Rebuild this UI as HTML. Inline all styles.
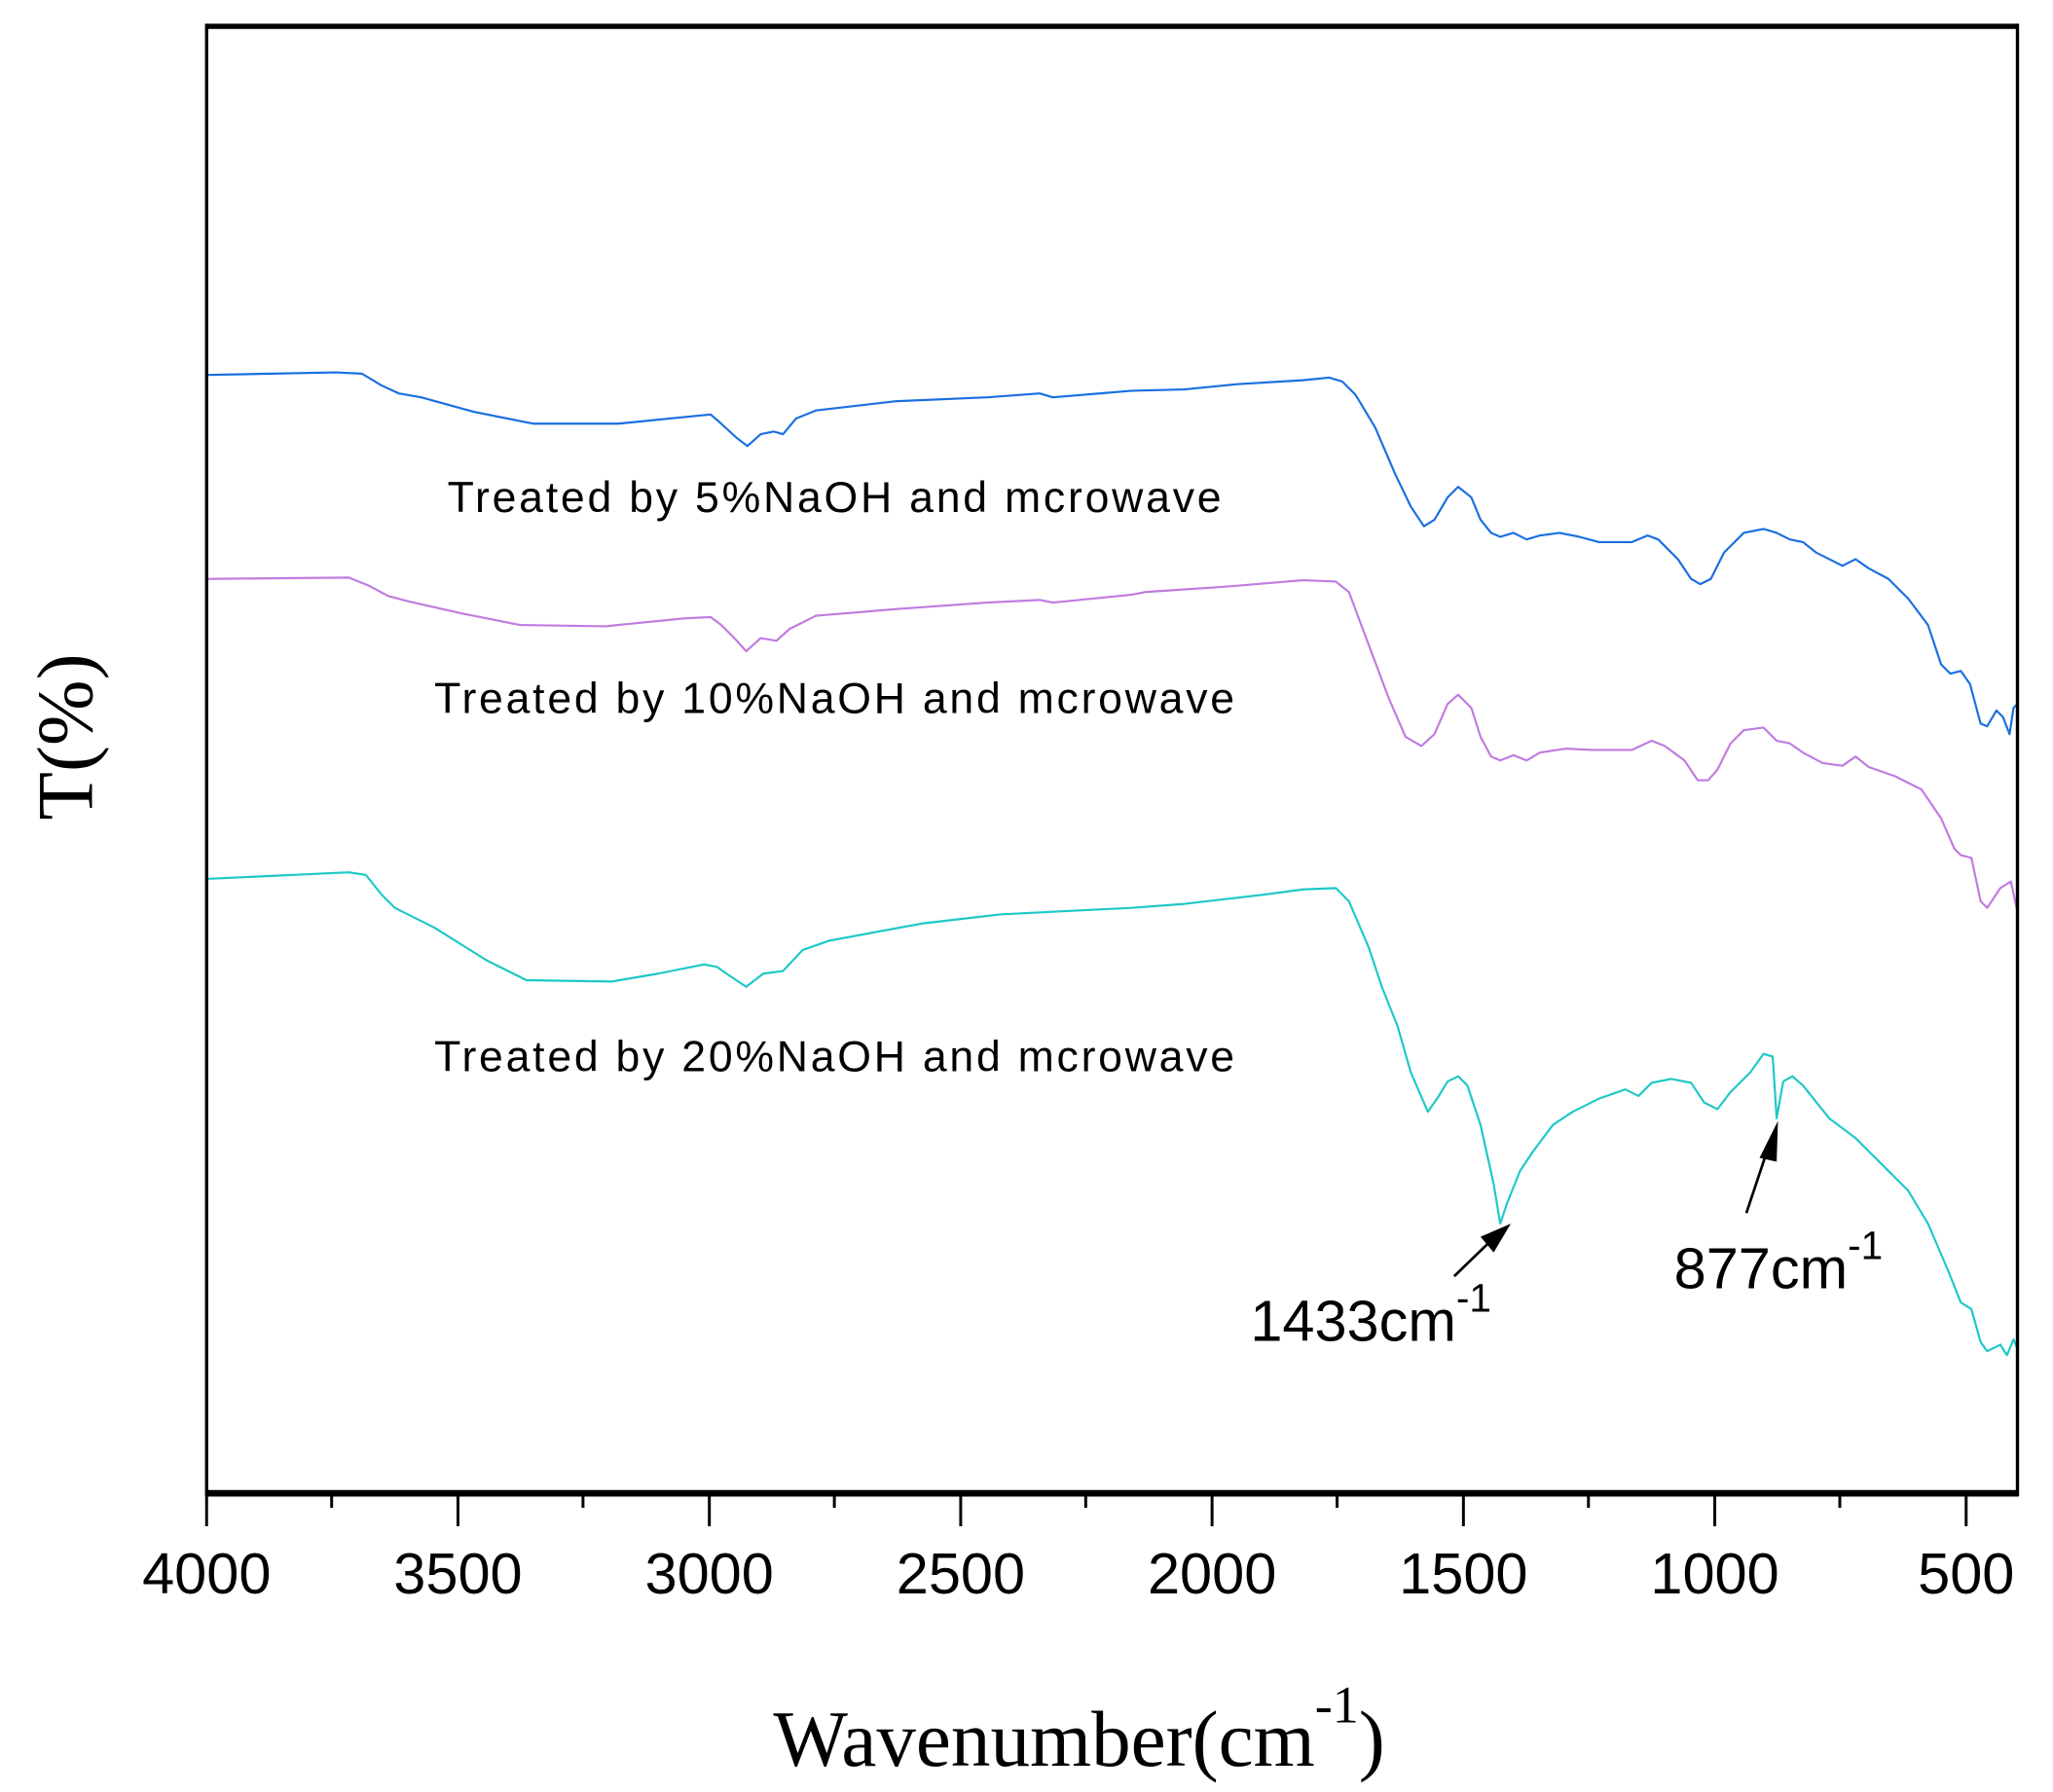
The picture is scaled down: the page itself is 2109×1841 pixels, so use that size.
<!DOCTYPE html>
<html><head><meta charset="utf-8"><style>html,body{margin:0;padding:0;background:#fff}svg{display:block}</style></head>
<body>
<svg width="2109" height="1841" viewBox="0 0 1560 1362" preserveAspectRatio="none" xmlns="http://www.w3.org/2000/svg">
<rect width="1560" height="1362" fill="#fff"/>
<g fill="none" stroke-linejoin="round" stroke-width="1.6">
<polyline stroke="#1a6fe0" points="157,285 255,283 275,284 290,293 303,299 320,302 360,313 405,322 470,322 510,318 540,315 548,322 560,333 568,339 578,330 588,328 595,330 605,318 620,312 680,305 750,302 790,299 800,302 860,297 900,296 940,292 990,289 1010,287 1020,290 1030,300 1045,325 1060,360 1072,385 1082,400 1090,395 1100,378 1108,370 1118,378 1125,395 1133,405 1140,408 1150,405 1160,410 1170,407 1185,405 1200,408 1215,412 1240,412 1252,407 1260,410 1275,425 1285,440 1292,444 1300,440 1310,420 1325,405 1340,402 1350,405 1360,410 1370,412 1380,420 1390,425 1400,430 1410,425 1420,432 1435,440 1450,455 1465,475 1475,505 1482,512 1490,510 1497,520 1505,550 1510,552 1517,540 1522,545 1527,558 1530,538 1533,535"/>
<polyline stroke="#c07be0" points="157,440 265,439 280,445 295,453 310,457 350,466 395,475 460,476 520,470 540,469 548,475 558,485 567,495 578,485 590,487 600,478 620,468 680,463 750,458 790,456 800,458 860,452 870,450 930,446 990,441 1015,442 1025,450 1040,490 1055,530 1068,560 1080,567 1090,558 1100,535 1108,528 1118,538 1125,560 1133,575 1140,578 1150,574 1160,578 1170,572 1190,569 1210,570 1240,570 1255,563 1265,567 1280,578 1290,593 1298,593 1305,585 1315,565 1325,555 1340,553 1350,563 1360,565 1370,572 1385,580 1400,582 1410,575 1420,583 1440,590 1460,600 1475,622 1485,645 1490,650 1498,652 1505,685 1510,690 1520,675 1528,670 1533,693"/>
<polyline stroke="#1ec8c8" points="157,668 265,663 278,665 290,680 300,690 330,705 370,730 400,745 465,746 500,740 535,733 545,735 555,742 567,750 580,740 595,738 610,722 630,715 700,702 760,695 800,693 860,690 900,687 960,680 990,676 1015,675 1025,685 1040,720 1050,750 1062,780 1072,815 1085,845 1092,835 1100,822 1108,818 1115,825 1125,855 1135,900 1140,930 1145,915 1155,890 1165,875 1180,855 1195,845 1215,835 1235,828 1245,833 1255,823 1270,820 1285,823 1295,838 1305,843 1315,830 1330,815 1340,801 1347,803 1350,850 1355,822 1362,818 1370,825 1390,850 1410,865 1430,885 1450,905 1465,930 1480,965 1490,990 1498,995 1505,1020 1510,1027 1520,1022 1525,1030 1530,1018 1533,1025"/>
</g>
<!-- frame -->
<g stroke="#000" fill="none">
<line x1="157" y1="20" x2="1534" y2="20" stroke-width="4"/>
<line x1="157" y1="1135" x2="1534" y2="1135" stroke-width="5"/>
<line x1="157" y1="18" x2="157" y2="1137" stroke-width="2.5"/>
<line x1="1533" y1="18" x2="1533" y2="1137" stroke-width="2.5"/>
<g stroke-width="2.2">
<line x1="157" y1="1137" x2="157" y2="1160"/><line x1="348" y1="1137" x2="348" y2="1160"/><line x1="539" y1="1137" x2="539" y2="1160"/><line x1="730" y1="1137" x2="730" y2="1160"/><line x1="921" y1="1137" x2="921" y2="1160"/><line x1="1112" y1="1137" x2="1112" y2="1160"/><line x1="1303" y1="1137" x2="1303" y2="1160"/><line x1="1494" y1="1137" x2="1494" y2="1160"/>
<line x1="252" y1="1137" x2="252" y2="1146"/><line x1="443" y1="1137" x2="443" y2="1146"/><line x1="634" y1="1137" x2="634" y2="1146"/><line x1="825" y1="1137" x2="825" y2="1146"/><line x1="1016" y1="1137" x2="1016" y2="1146"/><line x1="1207" y1="1137" x2="1207" y2="1146"/><line x1="1398" y1="1137" x2="1398" y2="1146"/>
</g>
</g>
<g font-family="Liberation Sans, sans-serif" font-size="44" text-anchor="middle" fill="#000">
<text x="157" y="1211">4000</text><text x="348" y="1211">3500</text><text x="539" y="1211">3000</text><text x="730" y="1211">2500</text><text x="921" y="1211">2000</text><text x="1112" y="1211">1500</text><text x="1303" y="1211">1000</text><text x="1494" y="1211">500</text>
</g>
<g font-family="Liberation Sans, sans-serif" font-size="33" fill="#000">
<text x="340" y="389" textLength="588">Treated by 5%NaOH and mcrowave</text>
<text x="330" y="542" textLength="608">Treated by 10%NaOH and mcrowave</text>
<text x="330" y="814" textLength="608">Treated by 20%NaOH and mcrowave</text>
</g>
<g font-family="Liberation Sans, sans-serif" fill="#000">
<text x="950" y="1019" font-size="44">1433cm<tspan font-size="30" dy="-22">-1</tspan></text>
<text x="1272" y="979" font-size="44">877cm<tspan font-size="30" dy="-22">-1</tspan></text>
</g>
<g stroke="#000" stroke-width="2">
<line x1="1105" y1="970" x2="1135" y2="941"/>
<line x1="1327" y1="922" x2="1345" y2="868"/>
</g>
<polygon points="1148,930 1125,940 1135,952" fill="#000"/>
<polygon points="1351,852 1337,880 1350,883" fill="#000"/>
<text x="820" y="1342" font-family="Liberation Serif, serif" font-size="60" text-anchor="middle" fill="#000">Wavenumber(cm<tspan font-size="40" dy="-33">-1</tspan><tspan font-size="60" dy="33">)</tspan></text>
<text transform="translate(70,560) rotate(-90)" font-family="Liberation Serif, serif" font-size="60" text-anchor="middle" fill="#000">T(%)</text>
</svg>
</body></html>
